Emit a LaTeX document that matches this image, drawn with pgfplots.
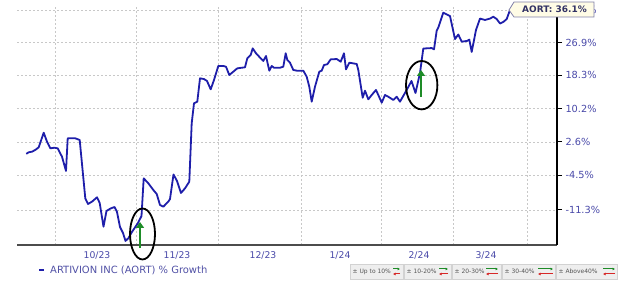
\documentclass[border=0pt]{standalone}
\usepackage{pgfplots}
\pgfplotsset{compat=1.18}
\usepackage{pgfplotstable}
\usepackage{fontspec}
\setmainfont{DejaVu Sans}
\usetikzlibrary{arrows.meta}
\definecolor{linecol}{RGB}{30,30,170}
\definecolor{labcol}{RGB}{72,72,168}
\definecolor{legcol}{RGB}{80,80,165}
\definecolor{gridcol}{RGB}{200,200,200}
\definecolor{arrgreen}{RGB}{30,140,40}
\definecolor{arrred}{RGB}{215,40,40}
\definecolor{tagfill}{RGB}{255,252,230}
\definecolor{tagdraw}{RGB}{130,130,170}
\definecolor{tagtext}{RGB}{50,50,100}
\definecolor{boxfill}{RGB}{238,238,238}
\definecolor{boxtext}{RGB}{85,85,85}

% x: horizontal position along the time axis, y: price index (start = 100)
\pgfplotstableread{
x y
26.3 100.00
28.7 100.34
32.0 100.47
35.3 100.84
38.7 101.41
43.7 104.64
47.0 102.65
50.3 101.19
54.3 101.32
57.7 101.19
62.0 99.39
66.0 96.40
67.7 103.38
75.3 103.38
79.7 103.02
85.3 90.91
88.0 89.82
92.0 90.27
97.0 91.11
99.7 90.02
103.5 85.55
106.5 88.49
110.5 88.95
114.5 89.24
117.0 88.30
120.0 85.50
123.0 84.41
125.5 82.98
128.5 83.50
132.0 84.60
138.0 86.24
141.5 87.54
143.7 94.89
148.3 93.89
153.3 92.56
156.7 91.77
160.0 89.63
163.3 89.30
168.3 90.27
170.0 90.78
173.5 95.68
177.0 94.36
181.0 91.96
185.0 92.88
189.3 94.22
191.7 106.77
194.0 111.45
197.3 111.83
200.0 117.56
204.0 117.38
207.0 116.90
210.7 114.82
214.0 117.15
218.3 120.71
223.3 120.71
226.0 120.53
229.3 118.41
233.3 119.25
237.3 120.11
241.7 120.26
245.0 120.37
247.3 122.71
250.7 123.59
252.7 125.36
256.0 124.05
260.7 122.71
263.3 122.02
266.0 123.32
269.3 119.51
271.7 120.71
274.0 120.26
280.0 120.26
283.3 120.53
285.7 124.05
287.3 122.28
290.0 121.57
293.3 119.69
296.7 119.51
303.3 119.51
306.7 117.97
309.3 115.47
311.7 111.83
315.0 115.47
319.3 119.25
321.7 119.51
324.0 120.97
327.3 121.15
330.7 122.44
336.7 122.52
340.7 121.83
344.0 124.05
346.0 119.84
349.3 121.57
356.7 121.23
358.3 119.69
362.7 112.78
365.0 114.50
368.3 112.39
371.7 113.44
376.0 114.67
378.3 113.44
381.7 111.59
385.0 113.44
388.3 113.02
393.3 112.24
396.7 113.02
400.0 111.83
406.7 114.67
411.5 116.90
415.5 113.93
420.0 118.92
423.3 125.31
431.7 125.44
434.0 125.09
436.7 130.19
438.3 131.08
443.3 135.31
450.0 134.35
455.0 127.88
458.3 129.13
461.7 127.17
467.0 127.36
469.3 127.74
471.7 124.40
476.0 130.39
480.0 133.62
485.0 133.22
490.0 133.62
493.3 134.15
496.7 133.48
500.0 132.22
503.3 132.65
506.7 133.48
510.0 136.10
}\aort

\begin{document}
\begin{tikzpicture}
\begin{axis}[
  scale only axis, width=540bp, height=238bp,
  xmin=17, xmax=557,
  ymode=log, ymin=82.27, ymax=136.98,
  axis x line*=bottom, axis y line*=right,
  x axis line style={-, draw=black!70, line width=2bp},
  y axis line style={-, draw=black, line width=1.3bp},
  xtick={97,177,263,340,419,486},
  xticklabels={10/23,11/23,12/23,1/24,2/24,3/24},
  major x tick style={draw=none},
  minor xtick={55,136,218,301,381,453,527},
  xminorgrids,
  ytick={88.7,95.5,102.6,110.2,118.3,126.9,136.1},
  yticklabels={-11.3\%,-4.5\%,2.6\%,10.2\%,18.3\%,26.9\%,36.1\%},
  ymajorgrids,
  grid style={gridcol, dash pattern=on 2bp off 2bp, line width=0.6bp},
  tick align=outside, major tick length=5bp, minor tick length=0pt,
  y tick style={black, line width=0.8bp},
  yticklabel style={font=\fontsize{9.8}{11}\selectfont, text=labcol, anchor=west, xshift=0bp},
  xticklabel style={font=\fontsize{9.3}{11}\selectfont, text=labcol, anchor=north, yshift=2bp},
  clip=false,
  legend entries={ARTIVION INC (AORT) \% Growth},
  legend style={at={(axis description cs:0,0)}, anchor=west, xshift=21bp, yshift=-25bp,
    draw=none, fill=none, font=\fontsize{10}{12}\selectfont, text=legcol, inner sep=0pt,
    column sep=3bp},
  legend image code/.code={\draw[#1, line width=2bp] (0bp,0bp) -- (5bp,0bp);},
]
\addplot[linecol, line width=1.8bp, line join=round] table {\aort};
\draw[black, line width=1.8bp] (axis cs:142.5,84.23) ellipse [x radius=12.5bp, y radius=25.5bp];
\draw[black, line width=1.8bp] (axis cs:421.7,115.85) ellipse [x radius=15.7bp, y radius=24.2bp];
\draw[arrgreen, line width=2.5bp, -{Triangle[length=6bp,width=8bp]}] (axis cs:140,81.73) -- (axis cs:140,86.43);
\draw[arrgreen, line width=2.5bp, -{Triangle[length=6bp,width=8bp]}] (axis cs:421,112.95) -- (axis cs:421,119.69);
\end{axis}
\coordinate (O) at ([xshift=-17bp, yshift=245bp]current axis.south west);
\begin{scope}[shift={(O)}, x=1bp, y=-1bp]
  % value tag
  \filldraw[fill=tagfill, draw=tagdraw, line width=0.8bp] (509,10) -- (514,2) -- (594,2) -- (594,17) -- (514,17) -- cycle;
  \node[font=\bfseries\fontsize{9}{10}\selectfont, text=tagtext, inner sep=0pt] at (554.5,9.5) {AORT: 36.1\%};
  % range boxes
  \foreach \a/\b/\t/\ax/\bx in {350/404/{\textpm\ Up to 10\%}/393/400, 404/452/{\textpm\ 10-20\%}/439/448, 452/502/{\textpm\ 20-30\%}/486/498, 502/556/{\textpm\ 30-40\%}/538/553, 556/618/{\textpm\ Above40\%}/603/615}{
    \filldraw[fill=boxfill, draw=gray!35, line width=0.5bp] (\a+0.5,264) rectangle (\b-0.5,279);
    \node[anchor=west, inner sep=0pt, font=\fontsize{6}{7}\selectfont, text=boxtext] at (\a+2.5,271.5) {\t};
    \draw[arrgreen, line width=1bp, -{Latex[length=2.5bp,width=3bp]}] (\ax,269) -- (\bx,269);
    \draw[arrred, line width=1bp, -{Latex[length=2.5bp,width=3bp]}] (\bx,274) -- (\ax,274);
  }
\end{scope}
\pgfresetboundingbox
\path[use as bounding box] (O) rectangle ++(620bp,-281bp);
\end{tikzpicture}
\end{document}
